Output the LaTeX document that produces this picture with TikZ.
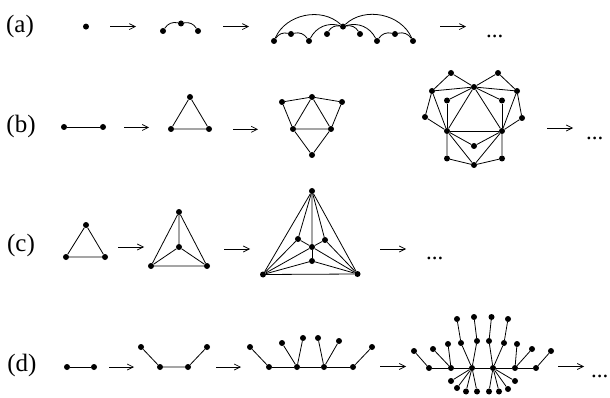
\documentclass[tikz,border=0pt]{standalone}
\usepackage{fontspec}
\setmainfont{Liberation Serif}
\usetikzlibrary{arrows.meta}
\begin{document}
\begin{tikzpicture}[x=1pt,y=-1pt,
  dot/.style={circle,fill=black,inner sep=0pt,minimum size=6pt},
  ed/.style={line width=0.8pt},
  arr/.style={line width=0.7pt,-{Straight Barb[length=6pt,width=6pt]}},
  lab/.style={inner sep=0pt,font=\fontsize{25}{28}\selectfont},
  ell/.style={inner sep=0pt,anchor=base west,font=\fontsize{23}{26}\selectfont}]
\useasboundingbox (0,0) rectangle (610,398);
% labels
\node[lab] (la) at (20,26) {(a)};
\node[lab] (lb) at (21,126) {(b)};
\node[lab] (lc) at (21,245) {(c)};
\node[lab] (ld) at (22,365) {(d)};
%%%%%%%% row (a)
\node[dot] (a0) at (86,26.6) {};
\coordinate (aa1) at (110,26.6); \coordinate (aa2) at (136,26.6);
\draw[arr] (aa1) -- (aa2);
\node[dot] (b1) at (163,31) {};
\node[dot] (b2) at (181,23.5) {};
\node[dot] (b3) at (198,31) {};
\draw[ed] (b1) to[bend left=35] (b2);
\draw[ed] (b2) to[bend left=35] (b3);
\coordinate (ab1) at (223,26.6); \coordinate (ab2) at (249,26.6);
\draw[arr] (ab1) -- (ab2);
\node[dot] (c1) at (274,41) {};
\node[dot] (c2) at (291,34) {};
\node[dot] (c3) at (309,41) {};
\node[dot] (c4) at (327,34) {};
\node[dot] (c5) at (343,26.6) {};
\node[dot] (c6) at (360,34) {};
\node[dot] (c7) at (377,41) {};
\node[dot] (c8) at (395,34) {};
\node[dot] (c9) at (413,41) {};
\draw[ed] (c1) to[bend left=35] (c2);
\draw[ed] (c2) to[bend left=35] (c3);
\draw[ed] (c4) to[bend left=35] (c5);
\draw[ed] (c5) to[bend left=35] (c6);
\draw[ed] (c7) to[bend left=35] (c8);
\draw[ed] (c8) to[bend left=35] (c9);
\draw[ed] (c3) to[bend left=40] (c5);
\draw[ed] (c5) to[bend left=40] (c7);
\draw[ed] (c1) to[bend left=55] (c5);
\draw[ed] (c5) to[bend left=55] (c9);
\coordinate (ac1) at (440,26.6); \coordinate (ac2) at (466,26.6);
\draw[arr] (ac1) -- (ac2);
\node[ell] (ea) at (486,37.5) {...};
%%%%%%%% row (b)
\node[dot] (d1) at (64,127) {};
\node[dot] (d2) at (103,127) {};
\draw[ed] (d1) -- (d2);
\coordinate (ba1) at (124,127.5); \coordinate (ba2) at (149,127.5);
\draw[arr] (ba1) -- (ba2);
\node[dot] (e1) at (190,97) {};
\node[dot] (e2) at (171,129) {};
\node[dot] (e3) at (209,129) {};
\draw[ed] (e1) -- (e2) -- (e3) -- (e1);
\coordinate (bb1) at (233,129.3); \coordinate (bb2) at (258,129.3);
\draw[arr] (bb1) -- (bb2);
\node[dot] (f1) at (282,102) {};
\node[dot] (f2) at (312,97) {};
\node[dot] (f3) at (342,102) {};
\node[dot] (f4) at (293,129) {};
\node[dot] (f5) at (331,129) {};
\node[dot] (f6) at (312,155) {};
\draw[ed] (f1) -- (f2) -- (f3) -- (f5) -- (f6) -- (f4) -- (f1);
\draw[ed] (f4) -- (f2) -- (f5) -- (f4);
\node[dot] (gt1) at (451,73) {};
\node[dot] (gt2) at (498,73) {};
\node[dot] (gT) at (474,87) {};
\node[dot] (gL1) at (432,91) {};
\node[dot] (gR1) at (517,91) {};
\node[dot] (giL) at (447,100.5) {};
\node[dot] (giR) at (502,100.5) {};
\node[dot] (gL2) at (425,117) {};
\node[dot] (gR2) at (522,118) {};
\node[dot] (gBL) at (447,131) {};
\node[dot] (gBR) at (502,131) {};
\node[dot] (gm) at (474,146) {};
\node[dot] (gb1) at (447,158.5) {};
\node[dot] (gb2) at (502,158.5) {};
\node[dot] (gbt) at (474,165) {};
\draw[ed] (gL1) -- (gt1) -- (gT) -- (gt2) -- (gR1);
\draw[ed] (gL1) -- (gT) -- (gR1);
\draw[ed] (gT) -- (giL); \draw[ed] (gT) -- (giR);
\draw[ed] (gT) -- (gBL); \draw[ed] (gT) -- (gBR);
\draw[ed] (gL1) -- (gL2) -- (gBL) -- (gL1);
\draw[ed] (gR1) -- (gR2) -- (gBR) -- (gR1);
\draw[ed] (giL) -- (gBL); \draw[ed] (giR) -- (gBR);
\draw[ed] (gBL) -- (gBR);
\draw[ed] (gBL) -- (gm) -- (gBR);
\draw[ed] (gBL) -- (gb1) -- (gbt) -- (gb2) -- (gBR);
\draw[ed] (gBL) -- (gbt) -- (gBR);
\coordinate (bc1) at (547,128); \coordinate (bc2) at (573,128);
\draw[arr] (bc1) -- (bc2);
\node[ell] (eb) at (586,139.5) {...};
%%%%%%%% row (c)
\node[dot] (h1) at (86,225) {};
\node[dot] (h2) at (66,257) {};
\node[dot] (h3) at (105,257) {};
\draw[ed] (h1) -- (h2) -- (h3) -- (h1);
\coordinate (ca1) at (118,247); \coordinate (ca2) at (144,247);
\draw[arr] (ca1) -- (ca2);
\node[dot] (i1) at (179,212) {};
\node[dot] (i2) at (179,247) {};
\node[dot] (i3) at (151,266) {};
\node[dot] (i4) at (207,266) {};
\draw[ed] (i1) -- (i3) -- (i4) -- (i1) -- (i2);
\draw[ed] (i3) -- (i2) -- (i4);
\coordinate (cb1) at (224,249); \coordinate (cb2) at (250,249);
\draw[arr] (cb1) -- (cb2);
\node[dot] (j1) at (312,191) {};
\node[dot] (j2) at (263,274.5) {};
\node[dot] (j3) at (357.5,274) {};
\node[dot] (j4) at (312,247) {};
\node[dot] (j5) at (298,239) {};
\node[dot] (j6) at (325,240) {};
\node[dot] (j7) at (312,261) {};
\draw[ed] (j1) -- (j2) -- (j3) -- (j1) -- (j4);
\draw[ed] (j2) -- (j4) -- (j3);
\draw[ed] (j1) -- (j5); \draw[ed] (j2) -- (j5); \draw[ed] (j4) -- (j5);
\draw[ed] (j1) -- (j6); \draw[ed] (j3) -- (j6); \draw[ed] (j4) -- (j6);
\draw[ed] (j2) -- (j7); \draw[ed] (j3) -- (j7); \draw[ed] (j4) -- (j7);
\coordinate (cc1) at (380,249); \coordinate (cc2) at (406,249);
\draw[arr] (cc1) -- (cc2);
\node[ell] (ec) at (426,259.5) {...};
%%%%%%%% row (d)
\node[dot] (k1) at (67,367) {};
\node[dot] (k2) at (94,367) {};
\draw[ed] (k1) -- (k2);
\coordinate (da1) at (109,367); \coordinate (da2) at (134,367);
\draw[arr] (da1) -- (da2);
\node[dot] (l1) at (141,347) {};
\node[dot] (l2) at (160,367) {};
\node[dot] (l3) at (188,367) {};
\node[dot] (l4) at (207,347) {};
\draw[ed] (l1) -- (l2) -- (l3) -- (l4);
\coordinate (db1) at (216,367); \coordinate (db2) at (241,367);
\draw[arr] (db1) -- (db2);
\node[dot] (m1) at (269,367) {};
\node[dot] (m2) at (297,367) {};
\node[dot] (m3) at (324,367) {};
\node[dot] (m4) at (353,367) {};
\node[dot] (n1) at (250,347) {};
\node[dot] (n2) at (282,343) {};
\node[dot] (n3) at (303,338) {};
\node[dot] (n4) at (318,338) {};
\node[dot] (n5) at (339,341) {};
\node[dot] (n6) at (372,347) {};
\draw[ed] (m1) -- (m2) -- (m3) -- (m4);
\draw[ed] (n1) -- (m1); \draw[ed] (n2) -- (m2); \draw[ed] (n3) -- (m2);
\draw[ed] (n4) -- (m3); \draw[ed] (n5) -- (m3); \draw[ed] (n6) -- (m4);
\coordinate (dc1) at (380,366.5); \coordinate (dc2) at (406,366.5);
\draw[arr] (dc1) -- (dc2);
% fourth tree
\node[dot] (q1) at (429,368) {};
\node[dot] (q2) at (451,368) {};
\node[dot] (q3) at (472,368) {};
\node[dot] (q4) at (493,368) {};
\node[dot] (q5) at (515,368) {};
\node[dot] (q6) at (536,368) {};
\draw[ed] (q1) -- (q2) -- (q3) -- (q4) -- (q5) -- (q6);
\node[dot] (u1) at (414,351) {};
\node[dot] (u2) at (433,349) {};
\node[dot] (u3) at (448,344) {};
\node[dot] (u4) at (461,343) {};
\node[dot] (u5) at (477,341) {};
\node[dot] (u6) at (489,341) {};
\node[dot] (u7) at (504,343) {};
\node[dot] (u8) at (517,344) {};
\node[dot] (u9) at (532,349) {};
\node[dot] (u10) at (551,351) {};
\node[dot] (t4) at (457,319) {};
\node[dot] (t5) at (474,317) {};
\node[dot] (t6) at (491.5,317) {};
\node[dot] (t7) at (508,319) {};
\draw[ed] (u1) -- (q1); \draw[ed] (u2) -- (q2); \draw[ed] (u3) -- (q2);
\draw[ed] (t4) -- (u4) -- (q3); \draw[ed] (t5) -- (u5) -- (q3);
\draw[ed] (t6) -- (u6) -- (q4); \draw[ed] (t7) -- (u7) -- (q4);
\draw[ed] (u8) -- (q5); \draw[ed] (u9) -- (q5); \draw[ed] (u10) -- (q6);
\node[dot] (w1) at (451,381) {};
\node[dot] (w2) at (457,388) {};
\node[dot] (w3) at (466,391.5) {};
\node[dot] (w4) at (477,391.5) {};
\node[dot] (w5) at (489,391.5) {};
\node[dot] (w6) at (499,391.5) {};
\node[dot] (w7) at (508,389) {};
\node[dot] (w8) at (515,381) {};
\draw[ed] (w1) -- (q3); \draw[ed] (w2) -- (q3); \draw[ed] (w3) -- (q3); \draw[ed] (w4) -- (q3);
\draw[ed] (w5) -- (q4); \draw[ed] (w6) -- (q4); \draw[ed] (w7) -- (q4); \draw[ed] (w8) -- (q4);
\coordinate (dd1) at (558,366.5); \coordinate (dd2) at (584,366.5);
\draw[arr] (dd1) -- (dd2);
\node[ell] (ed) at (591,377.5) {...};
\end{tikzpicture}
\end{document}
